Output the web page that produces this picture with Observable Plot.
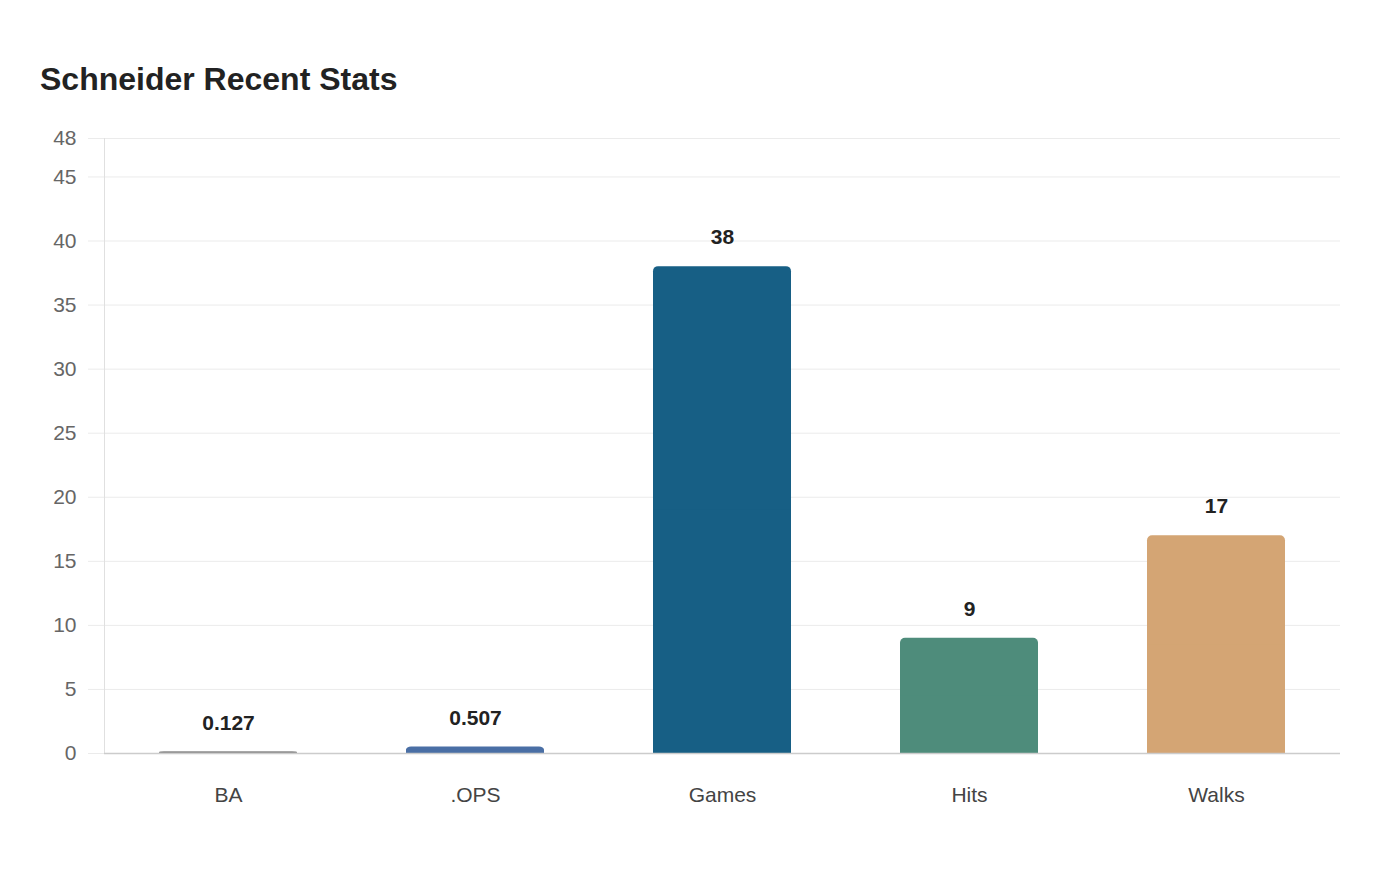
<!DOCTYPE html>
<html>
<head>
<meta charset="utf-8">
<script src="https://cdn.jsdelivr.net/npm/d3@7"></script>
<script src="https://cdn.jsdelivr.net/npm/@observablehq/plot@0.6"></script>
<style>
  html, body { margin: 0; padding: 0; background: #fff; }
  body { width: 1400px; height: 880px; font-family: "Liberation Sans", Arial, sans-serif; }
  h1 { margin: 0; padding: 61px 0 0 40px; height: 49px; box-sizing: content-box;
       font-size: 32px; font-weight: bold; color: #222; line-height: 36px; }
  #chart svg { display: block; }
</style>
</head>
<body>
<h1>Schneider Recent Stats</h1>
<div id="chart"></div>
<script>
// Recent batting stats for Schneider
const categories = ["BA", ".OPS", "Games", "Hits", "Walks"];
const values = [0.127, 0.507, 38, 9, 17];
const colors = ["#8a8a8a", "#4a6fa5", "#175f85", "#4e8c7b", "#d4a574"];
const yTicks = [0, 5, 10, 15, 20, 25, 30, 35, 40, 45, 48];

const data = categories.map((c, i) => ({ stat: c, value: values[i], color: colors[i] }));

const chart = Plot.plot({
  width: 1400,
  height: 770,
  marginTop: 28,
  marginBottom: 127,
  marginLeft: 104,
  marginRight: 60,
  style: { fontFamily: "'Liberation Sans', Arial, sans-serif", background: "#fff" },
  x: { domain: categories, paddingInner: 0.44, paddingOuter: 0.22, align: 0.5, label: null },
  y: { domain: [0, 48], label: null },
  marks: [
    Plot.gridY(yTicks, { stroke: "#ebebeb", strokeOpacity: 1 }),
    Plot.axisY(yTicks, {
      tickSize: 16, tickPadding: 12, stroke: "#ebebeb",
      fontSize: 21, fill: "#666", label: null, tickFormat: d => String(d)
    }),
    Plot.frame({ anchor: "left", stroke: "#e0e0e0" }),
    // rounded bar, then a square-cornered lower half so only the top corners are round
    Plot.barY(data, { x: "stat", y: "value", fill: "color", rx: 5 }),
    Plot.barY(data, { x: "stat", y1: 0, y2: d => d.value / 2, fill: "color" }),
    Plot.ruleY([0], { stroke: "#cccccc", strokeWidth: 1.5 }),
    Plot.axisX({ tickSize: 0, tickPadding: 34, fontSize: 21, fill: "#444", label: null }),
    Plot.text(data, {
      x: "stat", y: "value", text: d => String(d.value), dy: -29,
      fontSize: 21, fontWeight: "bold", fill: "#222"
    })
  ]
});
document.getElementById("chart").appendChild(chart);
</script>
</body>
</html>
